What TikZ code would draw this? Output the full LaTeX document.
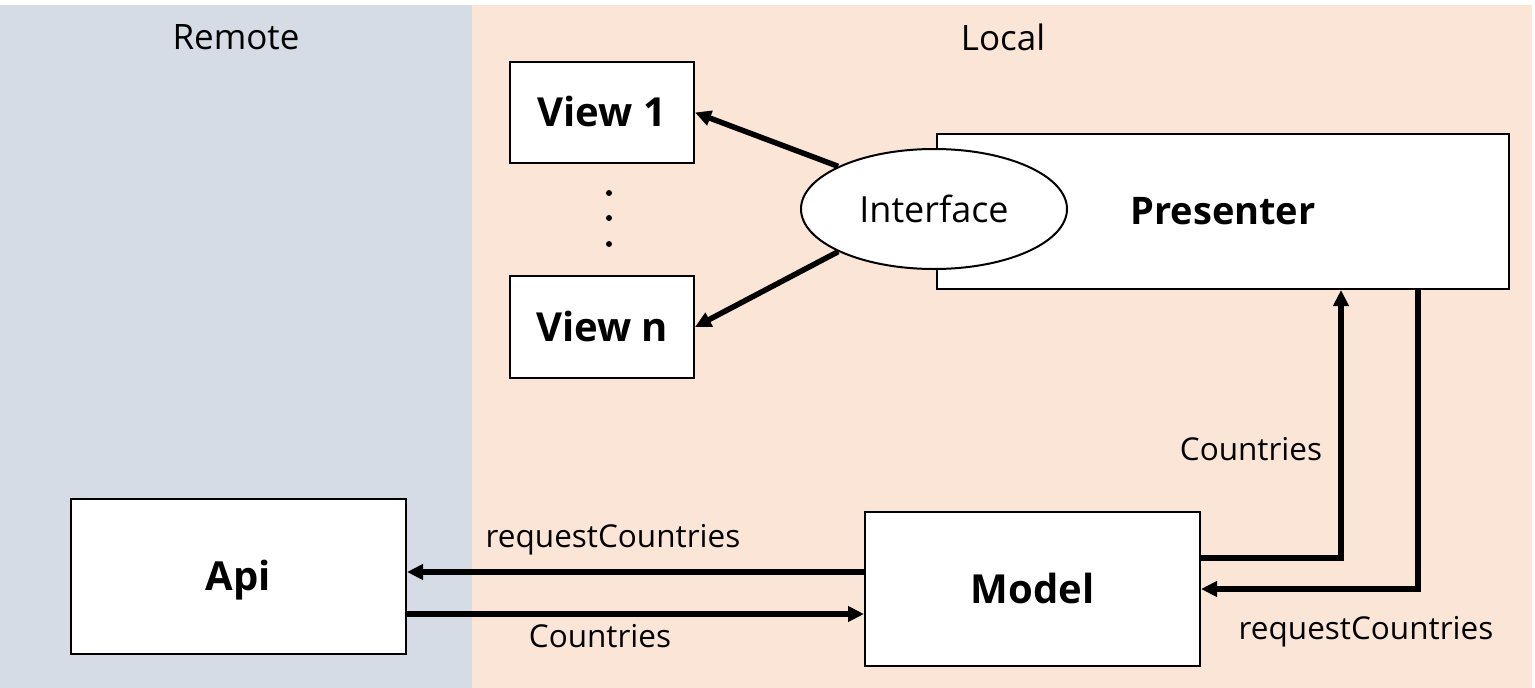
\documentclass[tikz,border=0pt]{standalone}
\usepackage{fontspec}
\setmainfont{Open Sans}
\usetikzlibrary{shapes.geometric,arrows.meta,calc}
\definecolor{remotebg}{HTML}{D6DCE5}
\definecolor{localbg}{HTML}{FBE5D6}
\begin{document}
\begin{tikzpicture}[x=1pt,y=-1pt,
        box/.style={draw,line width=2pt,fill=white,inner sep=0pt,text depth=2pt,font=\fontsize{40}{44}\selectfont\bfseries},
        flow/.style={line width=5.5pt,-{Triangle[length=16pt,width=15pt]}},
        lbl/.style={inner sep=0pt,font=\fontsize{31.5}{35}\selectfont}]
        \useasboundingbox (0,0) rectangle (1535,688);
        % the two areas
        \fill[remotebg] (0,5) rectangle (472,688);
        \fill[localbg] (472,5) rectangle (1532,688);
        \node[lbl,font=\fontsize{35}{40}\selectfont] (remote) at (236,37) {Remote};
        \node[lbl,font=\fontsize{35}{40}\selectfont] (local) at (1003,37) {Local};
        % views
        \node[box,minimum width=184pt,minimum height=101pt] (view1) at (602,112.5) {View 1};
        \node[box,minimum width=184pt,minimum height=102pt] (viewn) at (602,327) {View n};
        \foreach \y in {193,218,244}
            \fill (609,\y) circle (3);
        % presenter and its interface
        \node[box,minimum width=572pt,minimum height=155pt,font=\fontsize{38}{42}\selectfont\bfseries] (presenter) at (1223,211.5) {Presenter};
        \node[ellipse,draw,line width=2pt,fill=white,inner sep=0pt,minimum width=266pt,minimum height=120pt,font=\fontsize{36}{40}\selectfont] (iface) at (934,209) {Interface};
        % api and model
        \node[box,minimum width=335pt,minimum height=155pt] (api) at (238.5,576.5) {Api};
        \node[box,minimum width=335pt,minimum height=154pt] (model) at (1032.5,589) {Model};
        % connectors
        \draw[flow] (iface.156) -- (view1.east);
        \draw[flow] (iface.204) -- (viewn.east);
        \draw[flow] ([yshift=17pt]model.west) coordinate (m1) -- (m1 -| api.east);
        \draw[flow] ([yshift=-37.5pt]api.east) coordinate (a1) -- (a1 -| model.west);
        \draw[flow] ([yshift=31pt]model.east) -| ([xshift=118pt]presenter.south);
        \draw[flow] ([xshift=195pt]presenter.south) |- (model.east);
        % labels
        \node[lbl] (reqapi) at (613,540) {requestCountries};
        \node[lbl] (ctrapi) at (600,636) {Countries};
        \node[lbl] (ctrpres) at (1251,449) {Countries};
        \node[lbl] (reqpres) at (1366,632) {requestCountries};
\end{tikzpicture}
\end{document}
